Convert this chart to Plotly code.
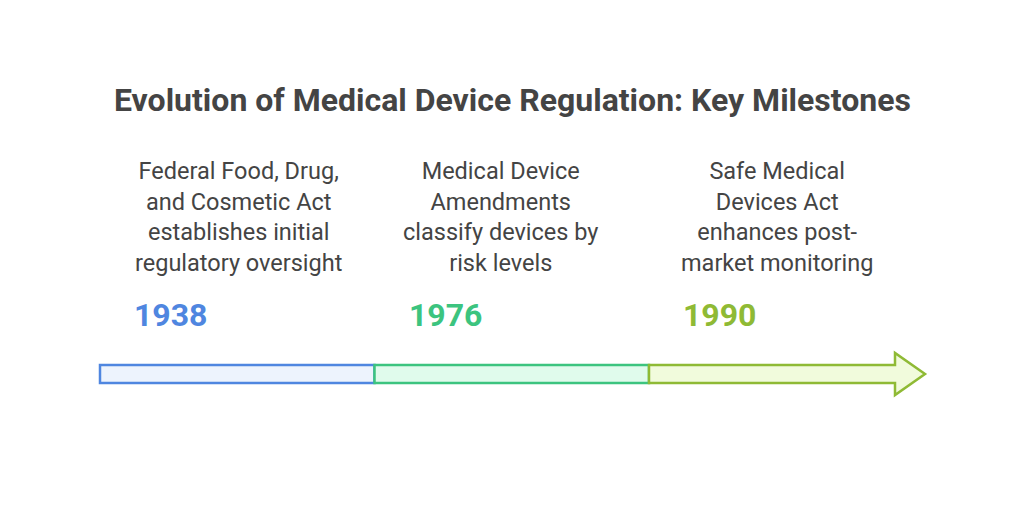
import plotly.graph_objects as go

title = "Evolution of Medical Device Regulation: Key Milestones"
years = ["1938", "1976", "1990"]
descriptions = [
    "Federal Food, Drug,<br>and Cosmetic Act<br>establishes initial<br>regulatory oversight",
    "Medical Device<br>Amendments<br>classify devices by<br>risk levels",
    "Safe Medical<br>Devices Act<br>enhances post-<br>market monitoring",
]
line_colors = ["#4f86e0", "#3cc47f", "#8fba35"]
fill_colors = ["#edf3fd", "#e0fbec", "#f1fbdc"]

fig = go.Figure()

x0, seg_w = 100, 274.5
y_top, y_bot = 365, 383
desc_x = [238, 500, 777]

for i, yr in enumerate(years):
    left = x0 + i * seg_w
    right = left + seg_w
    if i < len(years) - 1:
        path = f"M{left},{y_top} L{right},{y_top} L{right},{y_bot} L{left},{y_bot} Z"
    else:
        path = (f"M{left},{y_top} L895,{y_top} L895,353 L925,374 L895,395 "
                f"L895,{y_bot} L{left},{y_bot} Z")
    fig.add_shape(type="path", path=path, fillcolor=fill_colors[i],
                  line=dict(color=line_colors[i], width=2.5), layer="above")
    fig.add_annotation(x=left + 32, y=315, text=f"<b>{yr}</b>", showarrow=False,
                       xanchor="left", font=dict(family="Roboto", size=32, color=line_colors[i]))
    fig.add_annotation(x=desc_x[i], y=217, text=descriptions[i], showarrow=False,
                       align="center", font=dict(family="Roboto", size=23.5, color="#444444"))

fig.add_annotation(x=512, y=100, text=f"<b>{title}</b>", showarrow=False,
                   font=dict(family="Roboto", size=32, color="#444444"))

fig.update_layout(
    width=1024, height=514, margin=dict(l=0, r=0, t=0, b=0),
    paper_bgcolor="white", plot_bgcolor="white", showlegend=False,
    xaxis=dict(range=[8, 1032], visible=False),
    yaxis=dict(range=[522, 8], visible=False),
)
fig.write_html("out.html")
